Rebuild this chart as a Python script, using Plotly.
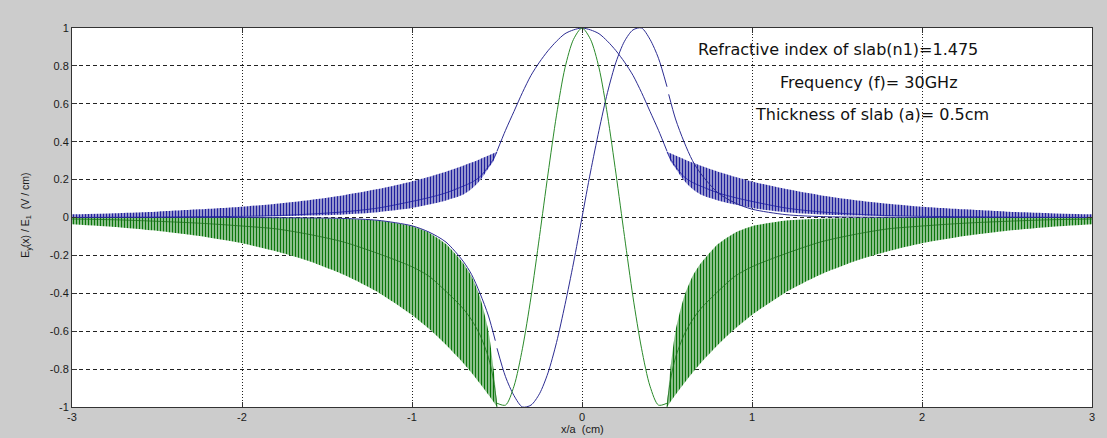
import plotly.graph_objects as go

# ---------------- data ----------------
# core region (inside the slab), x/a from -0.5 to 0.5
x_core = [-0.5, -0.45, -0.4, -0.35, -0.3, -0.25, -0.2, -0.15, -0.1, -0.05, 0.0,
          0.05, 0.1, 0.15, 0.2, 0.25, 0.3, 0.35, 0.4, 0.45, 0.5]
even_core = [0.35, 0.46, 0.56, 0.66, 0.75, 0.82, 0.88, 0.93, 0.97, 0.99, 1.00,
             0.99, 0.97, 0.93, 0.88, 0.82, 0.75, 0.66, 0.56, 0.46, 0.35]
odd_core = [-0.69, -0.84, -0.94, -1.00, -0.99, -0.93, -0.82, -0.66, -0.46, -0.24, 0.0,
            0.24, 0.46, 0.66, 0.82, 0.93, 0.99, 1.00, 0.94, 0.84, 0.69]
green_core = [-0.98, -0.99, -0.89, -0.69, -0.42, -0.10, 0.23, 0.54, 0.79, 0.94, 1.00,
              0.94, 0.79, 0.54, 0.23, -0.10, -0.42, -0.69, -0.89, -0.99, -0.98]

# cladding region (outside the slab)
x_clad_right = [0.5, 0.52, 0.55, 0.6, 0.65, 0.7, 0.8, 0.9, 1.0, 1.2, 1.4, 1.6, 1.8, 2.0, 2.25, 2.5, 2.75, 3.0]
x_clad_left = [-0.5, -0.52, -0.55, -0.6, -0.65, -0.7, -0.8, -0.9, -1.0, -1.2, -1.4, -1.6, -1.8, -2.0, -2.25, -2.5, -2.75, -3.0]
blue_band_top = [0.347, 0.339, 0.327, 0.308, 0.290, 0.273, 0.242, 0.215, 0.190, 0.150, 0.118, 0.093, 0.073, 0.057, 0.043, 0.031, 0.023, 0.017]
blue_band_bottom = [0.347, 0.30, 0.26, 0.195, 0.150, 0.120, 0.090, 0.068, 0.050, 0.028, 0.016, 0.010, 0.006, 0.004, 0.002, 0.001, 0.0, 0.0]
blue_band_mid = [0.347, 0.31, 0.27, 0.215, 0.185, 0.165, 0.13, 0.105, 0.085, 0.05, 0.03, 0.018, 0.01, 0.006, 0.004, 0.002, 0.001, 0.0]
green_band_bottom = [-1.0, -0.974, -0.936, -0.876, -0.819, -0.766, -0.671, -0.587, -0.514, -0.394, -0.302, -0.232, -0.178, -0.136, -0.098, -0.070, -0.050, -0.036]
green_band_top = [-0.99, -0.80, -0.60, -0.42, -0.31, -0.24, -0.14, -0.08, -0.046, -0.016, -0.006, -0.002, -0.001, 0.0, 0.0, 0.0, 0.0, 0.0]
green_band_mid = [-1.0, -0.86, -0.74, -0.62, -0.54, -0.48, -0.39, -0.31, -0.26, -0.19, -0.13, -0.09, -0.06, -0.045, -0.03, -0.02, -0.012, -0.008]

x_odd_right = [0.51, 0.55, 0.6, 0.65, 0.7, 0.8, 0.9, 1.0, 1.2, 1.4, 1.6, 1.8, 2.0, 2.5, 3.0]
x_odd_left = [-0.51, -0.55, -0.6, -0.65, -0.7, -0.8, -0.9, -1.0, -1.2, -1.4, -1.6, -1.8, -2.0, -2.5, -3.0]
odd_clad_right = [0.65, 0.52, 0.40, 0.30, 0.23, 0.13, 0.077, 0.044, 0.015, 0.005, 0.002, 0.001, 0.0, 0.0, 0.0]
odd_clad_left = [-0.65, -0.52, -0.40, -0.30, -0.23, -0.13, -0.077, -0.044, -0.015, -0.005, -0.002, -0.001, 0.0, 0.0, 0.0]

x_ticks = [-3, -2, -1, 0, 1, 2, 3]
x_tick_text = ["-3", "-2", "-1", "0", "1", "2", "3"]
y_ticks = [-1, -0.8, -0.6, -0.4, -0.2, 0, 0.2, 0.4, 0.6, 0.8, 1]
y_tick_text = ["-1", "-0.8", "-0.6", "-0.4", "-0.2", "0", "0.2", "0.4", "0.6", "0.8", "1"]

notes = ["Refractive index of slab(n1)=1.475", "Frequency (f)= 30GHz", "Thickness of slab (a)= 0.5cm"]

# ---------------- styles ----------------
BLUE = "#2c2c92"
GREEN = "#2a8a2a"
BLUE_FG = "#20209e"
BLUE_BG = "#9e9ed2"
GREEN_FG = "#0a760a"
GREEN_BG = "#94c494"

fig = go.Figure()


def band(xs, lo, hi, fg, bg):
    fig.add_trace(go.Scatter(x=xs, y=lo, mode="lines", line=dict(width=0, shape="spline", smoothing=0.6),
                             hoverinfo="skip", showlegend=False))
    fig.add_trace(go.Scatter(x=xs, y=hi, mode="lines", line=dict(width=0, shape="spline", smoothing=0.6),
                             fill="tonexty", fillcolor=bg,
                             fillpattern=dict(shape="|", size=3, solidity=0.38, fgcolor=fg, bgcolor=bg,
                                              fillmode="replace"),
                             hoverinfo="skip", showlegend=False))


def line(xs, ys, color, width=1.0):
    fig.add_trace(go.Scatter(x=xs, y=ys, mode="lines",
                             line=dict(color=color, width=width, shape="spline", smoothing=0.8),
                             showlegend=False))


# hatched bands in the cladding
for xs in (x_clad_right, x_clad_left):
    band(xs, green_band_bottom, green_band_top, GREEN_FG, GREEN_BG)
    band(xs, blue_band_bottom, blue_band_top, BLUE_FG, BLUE_BG)
    line(xs, green_band_mid, "#1b6e1b", 0.8)
    line(xs, blue_band_mid, "#1a1aa0", 0.8)

# odd mode decaying tails
line(x_odd_right, odd_clad_right, BLUE)
line(x_odd_left, odd_clad_left, BLUE)

# core curves
line(x_core, even_core, BLUE)
line(x_core, odd_core, BLUE)
line(x_core, green_core, GREEN)

TICK_FONT = dict(family="Liberation Sans, Arial, sans-serif", size=11, color="#1a1a1a")
axis_common = dict(showline=True, linecolor="#333333", linewidth=1, mirror="ticks",
                   ticks="inside", ticklen=5, tickcolor="#333333",
                   showgrid=True, gridcolor="#222222", gridwidth=1, zeroline=False,
                   tickfont=TICK_FONT)

fig.update_xaxes(range=[-3, 3], tickvals=x_ticks, ticktext=x_tick_text, griddash="1px,2px", **axis_common)
fig.update_yaxes(range=[-1, 1], tickvals=y_ticks, ticktext=y_tick_text, griddash="4px,3px", **axis_common)

fig.update_layout(
    width=1107, height=438,
    margin=dict(l=72, r=15, t=28, b=31),
    paper_bgcolor="#cccccc", plot_bgcolor="white",
    showlegend=False,
    font=dict(family="Liberation Sans, Arial, sans-serif", size=11, color="#1a1a1a"),
)

note_font = dict(family="DejaVu Sans, sans-serif", size=16, color="#111111")
fig.add_annotation(x=1.506, y=0.884, xref="x", yref="y", text=notes[0], showarrow=False, font=note_font)
fig.add_annotation(x=1.691, y=0.715, xref="x", yref="y", text=notes[1], showarrow=False, font=note_font)
fig.add_annotation(x=1.706, y=0.546, xref="x", yref="y", text=notes[2], showarrow=False, font=note_font)

fig.add_annotation(x=0.5, y=-0.058, xref="paper", yref="paper", text="x/a  (cm)", showarrow=False,
                   font=dict(size=11, color="#1a1a1a"), yanchor="middle")
fig.add_annotation(x=-0.0451, y=0.507, xref="paper", yref="paper",
                   text="E<sub>y</sub>(x) / E<sub>1</sub>  (V / cm)", textangle=-90, showarrow=False,
                   font=dict(size=10.5, color="#1a1a1a"), xanchor="center", yanchor="middle")

fig.write_html("out.html", config={"displayModeBar": False},
               post_script="document.body.style.margin='0';document.body.style.background='#cccccc';")
